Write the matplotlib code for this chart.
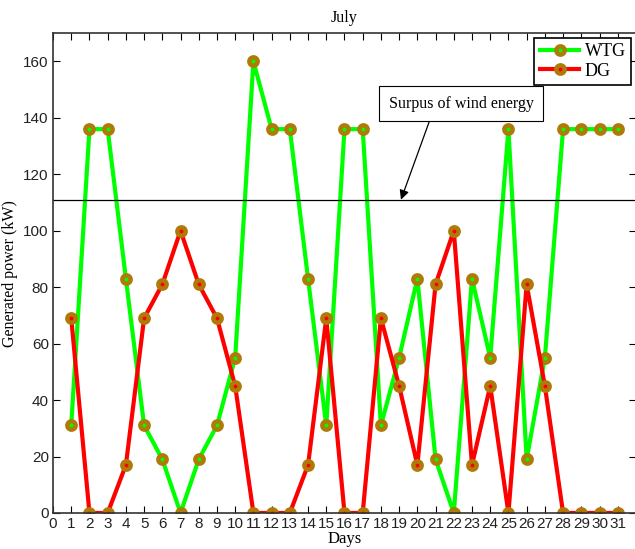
import numpy as np
from matplotlib import pyplot as plt

days = np.arange(1, 32)
wtg = [31, 136, 136, 83, 31, 19, 0, 19, 31, 55, 160, 136, 136, 83, 31, 136,
       136, 31, 55, 83, 19, 0, 83, 55, 136, 19, 55, 136, 136, 136, 136]
dg = [69, 0, 0, 17, 69, 81, 100, 81, 69, 45, 0, 0, 0, 17, 69, 0,
      0, 69, 45, 17, 81, 100, 17, 45, 0, 81, 45, 0, 0, 0, 0]
surplus_level = 111

serif = ['Liberation Serif', 'DejaVu Serif']
sans = ['Liberation Sans', 'DejaVu Sans']

fig = plt.figure(figsize=(6.35, 5.49), dpi=100)
ax = fig.add_axes([0.0835, 0.0656, 0.918, 0.874])

mk = dict(marker='o', markersize=6, markeredgewidth=3.2, markeredgecolor='#b07a08')
ax.plot(days, wtg, color='#00ff00', lw=3, markerfacecolor='#00ff00', label='WTG', **mk)
ax.plot(days, dg, color='#ff0000', lw=3, markerfacecolor='#ff0000', label='DG', **mk)

ax.axhline(surplus_level, color='black', lw=0.9)
ax.annotate('', xy=(19.1, surplus_level), xytext=(20.7, 139.5),
            arrowprops=dict(arrowstyle='-|>', color='black', lw=0.9, mutation_scale=14,
                            shrinkA=0, shrinkB=0))
ax.text(22.4, 145, 'Surpus of wind energy', ha='center', va='center', fontsize=11.5,
        family=serif,
        bbox=dict(boxstyle='square,pad=0.6', fc='white', ec='black', lw=0.8))

ax.set_xlim(0, 32)
ax.set_ylim(0, 170)
ax.set_xticks(range(0, 32))
ax.set_yticks(range(0, 161, 20))
ax.tick_params(direction='in', top=True, right=True, length=5, labelsize=11, pad=3)
for lbl in ax.get_xticklabels() + ax.get_yticklabels():
    lbl.set_family(sans)
    lbl.set_color('#222222')
for s in ax.spines.values():
    s.set_linewidth(1.2)
    s.set_color('#333333')

ax.set_title('July', fontsize=11.5, family=serif, pad=8)
ax.set_xlabel('Days', fontsize=12, family=serif, labelpad=0)
ax.set_ylabel('Generated power (kW)', fontsize=11.5, family=serif, labelpad=4)

leg = ax.legend(loc='upper right', fancybox=False, edgecolor='black', framealpha=1,
                prop={'family': serif, 'size': 13}, borderaxespad=0.25,
                handlelength=2.2, handletextpad=0.3, borderpad=0.3, labelspacing=0.15)
leg.get_frame().set_linewidth(1.2)

plt.savefig('out.png', dpi=100)
